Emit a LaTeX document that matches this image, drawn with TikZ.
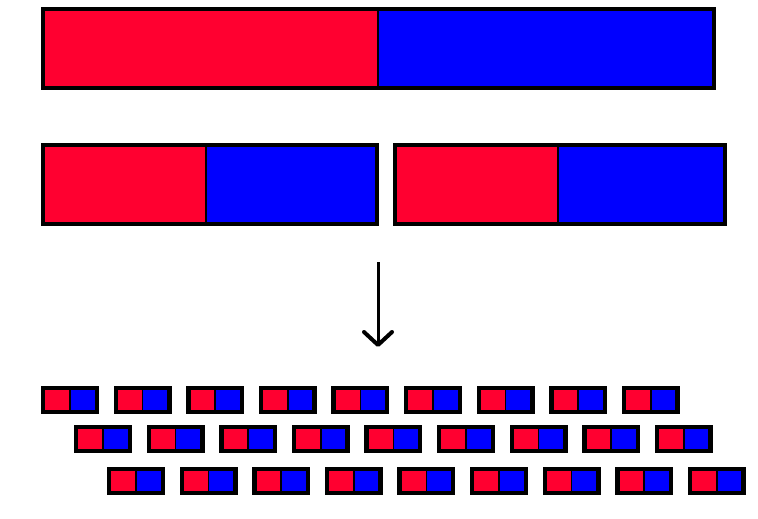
\documentclass[tikz,border=0pt]{standalone}
\usetikzlibrary{arrows.meta}
\definecolor{magred}{RGB}{255,0,48}
\definecolor{magblue}{RGB}{0,0,255}
\begin{document}
\begin{tikzpicture}[x=1pt,y=-1pt,
  redpart/.style={fill=magred},
  bluepart/.style={fill=magblue},
  bigframe/.style={draw=black,line width=4pt},
  smallframe/.style={draw=black,line width=4.5pt},
  divider/.style={draw=black,line width=2pt}]
\useasboundingbox[fill=white] (0,0) rectangle (758,519);
% top bar
\fill[redpart] (43,9) rectangle (378,88);
\fill[bluepart] (378,9) rectangle (714,88);
\draw[divider] (378,9) -- (378,88);
\draw[bigframe] (43,9) rectangle (714,88);
% second row
\fill[redpart] (43,145) rectangle (206,224);
\fill[bluepart] (206,145) rectangle (377,224);
\draw[divider] (206,145) -- (206,224);
\draw[bigframe] (43,145) rectangle (377,224);
\fill[redpart] (395,145) rectangle (558,224);
\fill[bluepart] (558,145) rectangle (725,224);
\draw[divider] (558,145) -- (558,224);
\draw[bigframe] (395,145) rectangle (725,224);
% arrow
\coordinate (a) at (378,262);
\coordinate (b) at (378,347);
\draw[line width=3pt,-{Straight Barb[length=13pt,width=28pt,line width=4pt,round]}] (a) -- (b);
% small bricks
\foreach \sx/\sy in {41/386,74/425,107/467}{
  \foreach \i in {0,...,8}{
    \pgfmathsetmacro{\bx}{\sx+72.6*\i}
    \fill[redpart] (\bx+2,\sy+2) rectangle (\bx+29,\sy+26);
    \fill[bluepart] (\bx+29,\sy+2) rectangle (\bx+56,\sy+26);
    \draw[divider,line width=1.5pt] (\bx+29,\sy+2) -- (\bx+29,\sy+26);
    \draw[smallframe] (\bx+2.2,\sy+2.2) rectangle (\bx+55.8,\sy+25.8);
  }
}
\end{tikzpicture}
\end{document}
